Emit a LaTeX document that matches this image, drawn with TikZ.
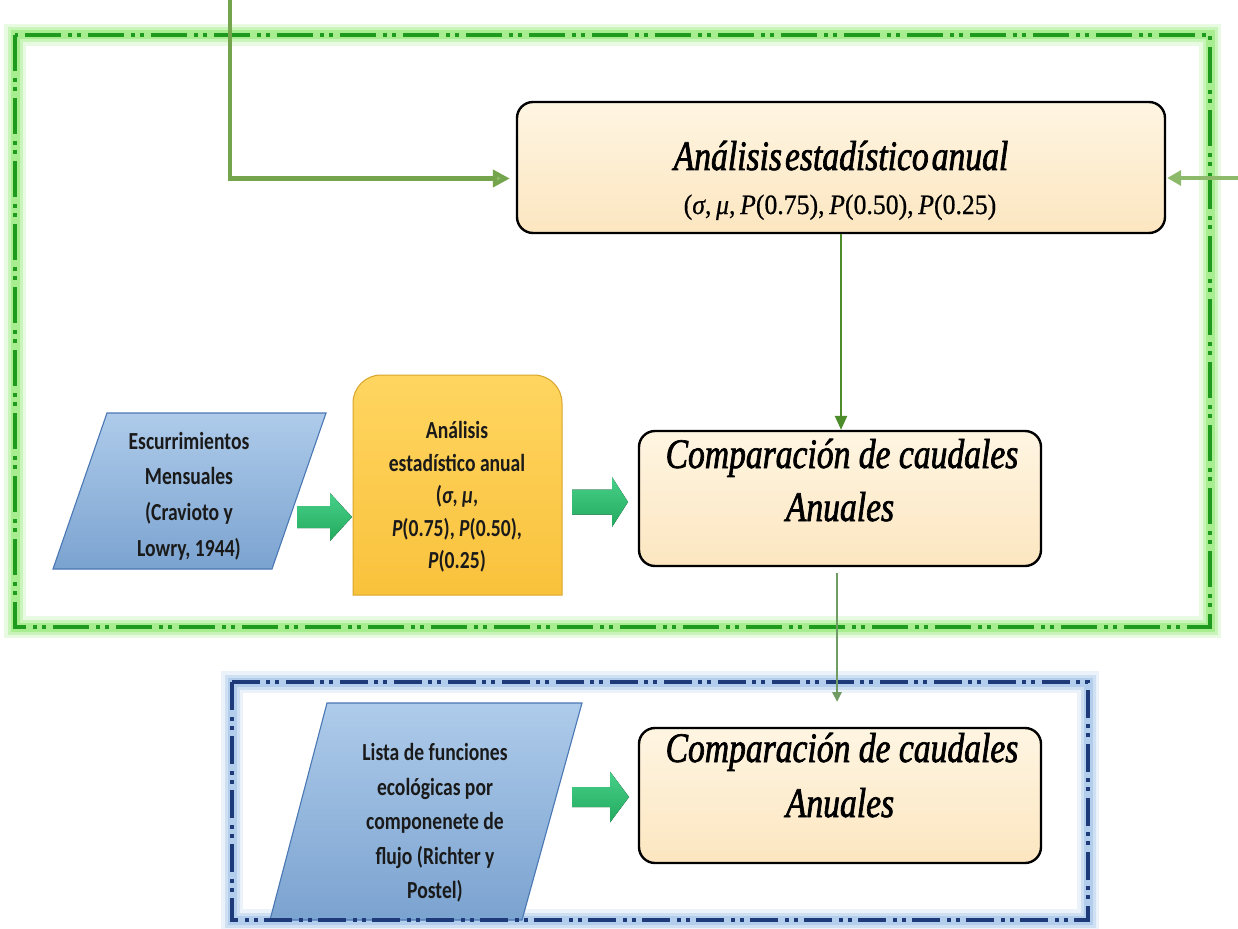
\documentclass[tikz,border=0pt]{standalone}
\usepackage{fontspec}
\usetikzlibrary{arrows.meta}

% fonts: condensed serif italic for the titles, serif for formulas, Carlito for labels
\newfontfamily\ttlfont[FakeStretch=0.8,FakeBold=1.6]{Liberation Serif}
\newfontfamily\formfont[FakeStretch=0.92,FakeBold=0.6]{Liberation Serif}
\newfontfamily\lblfont[FakeStretch=0.8]{Carlito}

\definecolor{frameGreen}{HTML}{1E9A1E}
\definecolor{glowGreen}{HTML}{9BEB7F}
\definecolor{frameBlue}{HTML}{1F3A78}
\definecolor{glowBlue}{HTML}{A7C7EA}
\definecolor{peachTop}{HTML}{FEF5E2}
\definecolor{peachBot}{HTML}{FCE6C0}
\definecolor{goldTop}{HTML}{FFD560}
\definecolor{goldBot}{HTML}{F9C23C}
\definecolor{goldEdge}{HTML}{D8A62A}
\definecolor{skyTop}{HTML}{AECBEA}
\definecolor{skyBot}{HTML}{7BA3D0}
\definecolor{skyEdge}{HTML}{4A78B4}
\definecolor{mintTop}{HTML}{48D08A}
\definecolor{mintBot}{HTML}{22AA5E}
\definecolor{oliveLine}{HTML}{74A44C}
\definecolor{leafLine}{HTML}{8CB96A}
\definecolor{darkLeaf}{HTML}{4C8C2B}
\definecolor{grayLeaf}{HTML}{6E9C62}
\definecolor{inkText}{HTML}{1A1A1A}

% filled block arrow from x0 (tail) to xt (tip), head base at xh
\newcommand{\mintarrow}[6]{%
  \fill[mintfill] (#1,#4-#5) -- (#2,#4-#5) -- (#2,#4-#6) -- (#3,#4)
    -- (#2,#4+#6) -- (#2,#4+#5) -- (#1,#4+#5) -- cycle;}

\begin{document}
\begin{tikzpicture}[x=1pt,y=-1pt,
  dashdotdot/.style={dash pattern=on 36pt off 7pt on 4pt off 5pt on 4pt off 7pt},
  dashdotdotsmall/.style={dash pattern=on 28pt off 7pt on 4pt off 5pt on 4pt off 6pt},
  glowA/.style={line width=22pt, draw opacity=.22},
  glowB/.style={line width=15pt, draw opacity=.4},
  glowC/.style={line width=9pt, draw opacity=.7},
  peachbox/.style={draw=black, line width=2.4pt, rounded corners=16pt,
    top color=peachTop, bottom color=peachBot, inner sep=0pt},
  titletext/.style={font=\ttlfont\itshape\fontsize{42}{48}\selectfont, text=black, inner sep=0pt},
  formtext/.style={font=\formfont\fontsize{28}{32}\selectfont, text=black, inner sep=0pt},
  lbltext/.style={font=\lblfont\bfseries\fontsize{24.5}{35.7}\selectfont, text=inkText,
    align=center, inner sep=0pt},
  skyshape/.style={draw=skyEdge, line width=1.1pt, top color=skyTop, bottom color=skyBot},
  goldshape/.style={draw=goldEdge, line width=1pt, top color=goldTop, bottom color=goldBot},
  mintfill/.style={top color=mintTop, bottom color=mintBot},
  entryline/.style={draw=oliveLine, line width=4pt,
    -{Triangle[length=17pt,width=17pt,fill=leafLine]}},
  sideline/.style={draw=leafLine, line width=4pt, -{Triangle[length=14pt,width=15pt]}},
  downline/.style={draw=darkLeaf, line width=2.5pt, -{Triangle[length=14pt,width=12pt]}},
  grayline/.style={draw=grayLeaf, line width=2.5pt, -{Triangle[length=10pt,width=9pt]}}
]
\useasboundingbox (0,0) rectangle (1238,928);
\fill[white] (0,0) rectangle (1238,928);

% soft halos around the two stage frames
\foreach \g in {glowA,glowB,glowC}{
  \draw[glowGreen, \g] (15,35) rectangle (1210,627);
  \draw[glowBlue, \g] (232,682) rectangle (1088,920);
}

% annual statistics box (top)
\node[peachbox, minimum width=648pt, minimum height=131pt] (stat) at (841,167.5) {};
\node[titletext, anchor=base] (statT) at (841,170)
  {Análisis\hspace{3pt}estadístico\hspace{3pt}anual};
\node[formtext, anchor=base] (statF) at (840,214)
  {(\textit{σ},\,\textit{μ},\,\textit{P}(0.75),\,\textit{P}(0.50),\,\textit{P}(0.25)};

% monthly runoff input
\path[skyshape] (107,413) -- (326,413) -- (272,569) -- (53,569) -- cycle;
\node[lbltext] (esc) at (189,496)
  {Escurrimientos\\Mensuales\\(Cravioto y\\Lowry, 1944)};

% annual statistics (gold tab)
\path[goldshape] (353,595) -- (353,403)
  arc[start angle=180, end angle=270, radius=28] -- (534,375)
  arc[start angle=270, end angle=360, radius=28] -- (562,595) -- cycle;
\node[lbltext, font=\lblfont\bfseries\fontsize{24.5}{32.5}\selectfont] (ana) at (457,497)
  {Análisis\\estadístico anual\\(\textit{σ}, \textit{μ},\\\textit{P}(0.75), \textit{P}(0.50),\\\textit{P}(0.25)};

% comparison of annual flows (stage 1)
\node[peachbox, minimum width=402pt, minimum height=135pt] (cmp1) at (840,498.5) {};
\node[titletext, anchor=base] (cmp1a) at (842,468) {Comparación de caudales};
\node[titletext, anchor=base] (cmp1b) at (840,521) {Anuales};

% ecological functions input
\path[skyshape] (327,703) -- (582,703) -- (522,920) -- (270,920) -- cycle;
\node[lbltext, font=\lblfont\bfseries\fontsize{24.5}{34.5}\selectfont] (eco) at (435,823)
  {Lista de funciones\\ecológicas por\\componenete de\\flujo (Richter y\\Postel)};

% comparison of annual flows (stage 2)
\node[peachbox, minimum width=402pt, minimum height=135pt] (cmp2) at (840,795.5) {};
\node[titletext, anchor=base] (cmp2a) at (842,762) {Comparación de caudales};
\node[titletext, anchor=base] (cmp2b) at (840,817) {Anuales};

% block arrows
\mintarrow{297}{330}{352}{517}{11}{24}
\mintarrow{572}{612}{628}{502}{12.5}{25}
\mintarrow{572}{610}{629}{797}{10}{25.5}

% stage frames
\draw[frameGreen, line width=4.5pt, dashdotdot] (15,35) rectangle (1210,627);
\draw[frameBlue, line width=3.5pt, dashdotdotsmall] (232,682) rectangle (1088,920);

% connectors
\coordinate (topIn) at (230,0);
\coordinate (rightIn) at (1238,178);
\coordinate (blueIn) at (837,702);
\draw[entryline, shorten >=6pt] (topIn) |- ([yshift=-11pt]stat.west);
\draw[sideline, shorten >=1pt] (rightIn) -- (rightIn -| stat.east);
\draw[downline] (stat.south) -- (stat.south |- cmp1.north);
\draw[grayline] (blueIn |- cmp1.south) ++(0,6) -- (blueIn);
\end{tikzpicture}
\end{document}
